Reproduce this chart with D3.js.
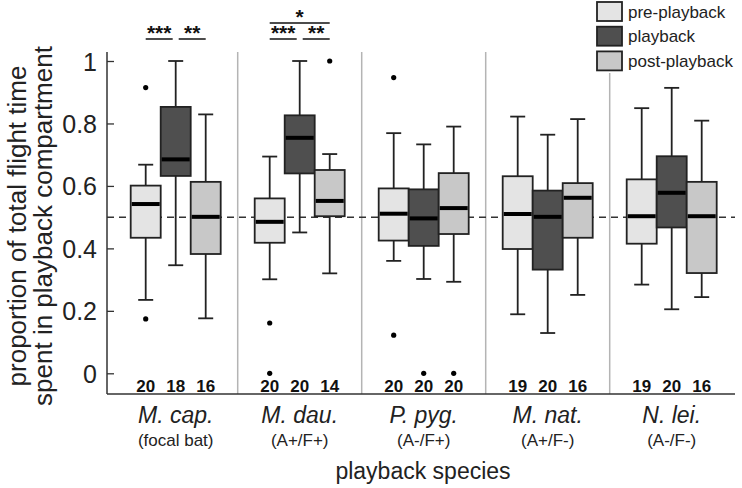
<!DOCTYPE html>
<html><head><meta charset="utf-8">
<script src="https://cdn.jsdelivr.net/npm/d3@7"></script>
<style>body{margin:0;background:#fff}svg{display:block}text{font-family:"Liberation Sans",Arial,sans-serif}</style>
</head><body>
<svg id="c" width="742" height="488"></svg>
<script>
const categories = ["M. cap.", "M. dau.", "P. pyg.", "M. nat.", "N. lei."];
const subLabels = ["(focal bat)", "(A+/F+)", "(A-/F+)", "(A+/F-)", "(A-/F-)"];
const conditions = ["pre-playback", "playback", "post-playback"];
const yTicks = [0, 0.2, 0.4, 0.6, 0.8, 1];
const yTickLabels = ["0", "0.2", "0.4", "0.6", "0.8", "1"];

const preLow  = [0.235, 0.301, 0.360, 0.189, 0.284];
const preQ1   = [0.434, 0.418, 0.425, 0.398, 0.415];
const preMed  = [0.542, 0.485, 0.511, 0.510, 0.503];
const preQ3   = [0.601, 0.560, 0.592, 0.631, 0.621];
const preHigh = [0.668, 0.694, 0.769, 0.822, 0.849];
const preOut  = [[0.174, 0.915], [0.161, 0.0], [0.947, 0.122], [], []];
const preN    = [20, 20, 20, 19, 19];

const pbLow  = [0.346, 0.451, 0.302, 0.129, 0.205];
const pbQ1   = [0.632, 0.640, 0.408, 0.332, 0.467];
const pbMed  = [0.685, 0.754, 0.496, 0.501, 0.578];
const pbQ3   = [0.853, 0.826, 0.589, 0.585, 0.695];
const pbHigh = [1.000, 1.000, 0.733, 0.764, 0.914];
const pbOut  = [[], [], [0.0], [], []];
const pbN    = [18, 20, 20, 20, 20];

const postLow  = [0.176, 0.320, 0.293, 0.251, 0.244];
const postQ1   = [0.382, 0.503, 0.446, 0.434, 0.321];
const postMed  = [0.501, 0.552, 0.529, 0.562, 0.503];
const postQ3   = [0.613, 0.651, 0.641, 0.609, 0.613];
const postHigh = [0.829, 0.702, 0.790, 0.814, 0.809];
const postOut  = [[], [1.0], [0.0], [], []];
const postN    = [16, 14, 20, 16, 16];

// significance brackets: group index, from condition, to condition, label, level
const sigGroup = [0, 0, 1, 1, 1];
const sigFrom  = [0, 1, 0, 1, 0];
const sigTo    = [1, 2, 1, 2, 2];
const sigLabel = ["***", "**", "***", "**", "*"];
const sigLevel = [0, 0, 0, 0, 1];

const colors = ["#e4e4e4", "#4f4f4f", "#c8c8c8"];

const series = [
  {low: preLow, q1: preQ1, med: preMed, q3: preQ3, high: preHigh, out: preOut, n: preN},
  {low: pbLow, q1: pbQ1, med: pbMed, q3: pbQ3, high: pbHigh, out: pbOut, n: pbN},
  {low: postLow, q1: postQ1, med: postMed, q3: postQ3, high: postHigh, out: postOut, n: postN}
];

const svg = d3.select("#c");
const axisX = 107, axisBottom = 394, axisTop = 52, rightEdge = 735;
const x = d3.scaleBand().domain(categories).range([113.7, 733.7]).padding(0);
const y = d3.scaleLinear().domain([0, 1]).range([373.3, 61]);
const sub = d3.scaleBand().domain(conditions).range([-45, 45]).padding(0);
const bw = sub.bandwidth();
const cx = (gi, ci) => x(categories[gi]) + x.bandwidth() / 2 + sub(conditions[ci]) + bw / 2;

// separators
svg.append("g").selectAll("line").data(categories.slice(1)).join("line")
  .attr("x1", d => x(d)).attr("x2", d => x(d))
  .attr("y1", axisTop).attr("y2", axisBottom)
  .attr("stroke", "#b4b4b4").attr("stroke-width", 1.5);

// dashed reference line
svg.append("line").attr("x1", axisX).attr("x2", rightEdge)
  .attr("y1", y(0.5)).attr("y2", y(0.5))
  .attr("stroke", "#333").attr("stroke-width", 1.5).attr("stroke-dasharray", "7,5");

// boxes
const boxData = [];
series.forEach((s, ci) => categories.forEach((c, gi) => {
  boxData.push({gi, ci, low: s.low[gi], q1: s.q1[gi], med: s.med[gi], q3: s.q3[gi], high: s.high[gi], out: s.out[gi], n: s.n[gi]});
}));

const g = svg.append("g");
const bx = g.selectAll("g.box").data(boxData).join("g").attr("class", "box");
bx.append("line").attr("x1", d => cx(d.gi, d.ci)).attr("x2", d => cx(d.gi, d.ci))
  .attr("y1", d => y(d.high)).attr("y2", d => y(d.q3)).attr("stroke", "#222").attr("stroke-width", 1.8);
bx.append("line").attr("x1", d => cx(d.gi, d.ci)).attr("x2", d => cx(d.gi, d.ci))
  .attr("y1", d => y(d.q1)).attr("y2", d => y(d.low)).attr("stroke", "#222").attr("stroke-width", 1.8);
bx.append("line").attr("x1", d => cx(d.gi, d.ci) - 7.5).attr("x2", d => cx(d.gi, d.ci) + 7.5)
  .attr("y1", d => y(d.high)).attr("y2", d => y(d.high)).attr("stroke", "#222").attr("stroke-width", 1.8);
bx.append("line").attr("x1", d => cx(d.gi, d.ci) - 7.5).attr("x2", d => cx(d.gi, d.ci) + 7.5)
  .attr("y1", d => y(d.low)).attr("y2", d => y(d.low)).attr("stroke", "#222").attr("stroke-width", 1.8);
bx.append("rect").attr("x", d => cx(d.gi, d.ci) - bw / 2).attr("width", bw)
  .attr("y", d => y(d.q3)).attr("height", d => y(d.q1) - y(d.q3))
  .attr("fill", d => colors[d.ci]).attr("stroke", "#222").attr("stroke-width", 1.8);
bx.append("line").attr("x1", d => cx(d.gi, d.ci) - bw / 2 + 1).attr("x2", d => cx(d.gi, d.ci) + bw / 2 - 1)
  .attr("y1", d => y(d.med)).attr("y2", d => y(d.med)).attr("stroke", "#000").attr("stroke-width", 4);
bx.each(function(d) {
  d3.select(this).selectAll("circle").data(d.out).join("circle")
    .attr("cx", cx(d.gi, d.ci)).attr("cy", v => y(v)).attr("r", 2.6).attr("fill", "#000");
});
g.selectAll("text.n").data(boxData).join("text").attr("class", "n")
  .attr("x", d => cx(d.gi, d.ci)).attr("y", 392).attr("text-anchor", "middle")
  .attr("font-size", 17).attr("font-weight", "bold").attr("fill", "#111").text(d => d.n);

// axes lines
svg.append("line").attr("x1", axisX).attr("x2", axisX).attr("y1", axisTop).attr("y2", axisBottom)
  .attr("stroke", "#333").attr("stroke-width", 1.5);
svg.append("line").attr("x1", axisX).attr("x2", rightEdge).attr("y1", axisBottom).attr("y2", axisBottom)
  .attr("stroke", "#333").attr("stroke-width", 1.5);

// y axis ticks
const yAxis = d3.axisRight(y).tickValues(yTicks).tickSize(7).tickFormat((d, i) => yTickLabels[i]);
const ya = svg.append("g").attr("transform", `translate(${axisX},0)`).call(yAxis);
ya.select(".domain").remove();
ya.selectAll(".tick line").attr("stroke", "#333").attr("stroke-width", 1.3);
ya.selectAll(".tick text").attr("x", -10).attr("text-anchor", "end").attr("dy", "0.36em")
  .attr("font-size", 25).attr("fill", "#222").style("font-family", '"Liberation Sans", Arial, sans-serif');

// y title
const yt = svg.append("text").attr("transform", "translate(0,226) rotate(-90)").attr("text-anchor", "middle")
  .attr("font-size", 26).attr("fill", "#222");
yt.append("tspan").attr("x", 0).attr("y", 26).text("proportion of total flight time");
yt.append("tspan").attr("x", 0).attr("y", 52).text("spent in playback compartment");

// x labels
svg.selectAll("text.cat").data(categories).join("text").attr("class", "cat")
  .attr("x", d => x(d) + x.bandwidth() / 2).attr("y", 423).attr("text-anchor", "middle")
  .attr("font-size", 23).attr("font-style", "italic").attr("fill", "#222").text(d => d);
svg.selectAll("text.subl").data(subLabels).join("text").attr("class", "subl")
  .attr("x", (d, i) => x(categories[i]) + x.bandwidth() / 2).attr("y", 446).attr("text-anchor", "middle")
  .attr("font-size", 17).attr("fill", "#222").text(d => d);
svg.append("text").attr("x", 423).attr("y", 479).attr("text-anchor", "middle")
  .attr("font-size", 23).attr("fill", "#222").text("playback species");

// significance
sigLabel.forEach((lab, i) => {
  const gi = sigGroup[i];
  let x1 = cx(gi, sigFrom[i]), x2 = cx(gi, sigTo[i]);
  if (sigLevel[i] === 0) {
    if (sigFrom[i] === 1) x1 += 3; else x2 -= 3;
  }
  const ly = sigLevel[i] === 0 ? 39 : 23;
  svg.append("line").attr("x1", x1).attr("x2", x2).attr("y1", ly).attr("y2", ly)
    .attr("stroke", "#111").attr("stroke-width", 1.5);
  svg.append("text").attr("x", (x1 + x2) / 2).attr("y", ly + 1).attr("text-anchor", "middle")
    .attr("font-size", 21).attr("font-weight", "bold").attr("fill", "#111").text(lab);
});

// legend
const lg = svg.append("g");
lg.append("rect").attr("x", 592).attr("y", 0).attr("width", 150).attr("height", 73).attr("fill", "#fff");
conditions.forEach((c, i) => {
  lg.append("rect").attr("x", 597).attr("y", 2 + i * 24.7).attr("width", 25).attr("height", 19)
    .attr("fill", colors[i]).attr("stroke", "#222").attr("stroke-width", 1.8);
  lg.append("text").attr("x", 628).attr("y", 17.5 + i * 24.7).attr("font-size", 17).attr("fill", "#222").text(c);
});
</script>
</body></html>
